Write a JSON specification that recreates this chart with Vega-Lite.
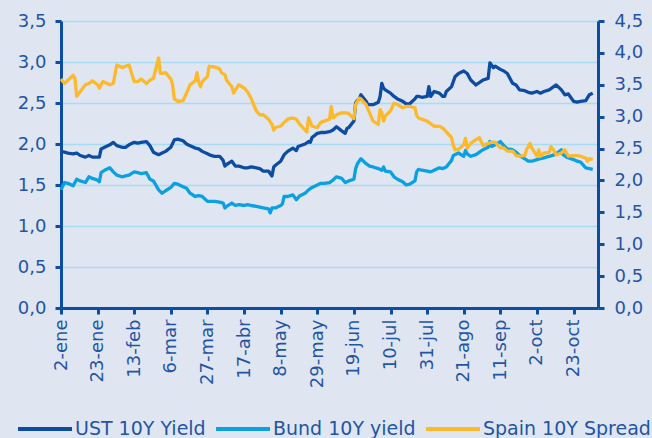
{
"$schema": "https://vega.github.io/schema/vega-lite/v6.json",
"autosize": {"type": "none"},
"padding": {"left": 61, "top": 21, "right": 54, "bottom": 130},
"width": 537,
"height": 287,
"background": "#dfe6f2",
"config": {
  "font": "DejaVu Sans",
  "view": {"stroke": null},
  "axis": {"domainColor": "#0b4ea2", "domainWidth": 3, "tickColor": "#0b4ea2", "tickWidth": 3, "tickSize": 6, "labelColor": "#1f55a3", "labelFontSize": 18, "labelFont": "DejaVu Sans", "title": null, "gridColor": "#a8dcf2", "gridWidth": 1.5},
  "legend": {"labelFont": "DejaVu Sans"}
},
"datasets": {
"ust": [
{"d":"2017-01-02","v":1.91},{"d":"2017-01-04","v":1.90},{"d":"2017-01-06","v":1.89},{"d":"2017-01-09","v":1.88},{"d":"2017-01-11","v":1.89},{"d":"2017-01-13","v":1.86},{"d":"2017-01-16","v":1.84},{"d":"2017-01-18","v":1.86},{"d":"2017-01-20","v":1.84},{"d":"2017-01-23","v":1.84},{"d":"2017-01-24","v":1.84},{"d":"2017-01-25","v":1.94},{"d":"2017-01-27","v":1.96},{"d":"2017-01-30","v":1.99},
{"d":"2017-02-01","v":2.02},{"d":"2017-02-03","v":1.98},{"d":"2017-02-06","v":1.96},{"d":"2017-02-08","v":1.96},{"d":"2017-02-10","v":1.99},{"d":"2017-02-13","v":2.02},{"d":"2017-02-15","v":2.01},{"d":"2017-02-17","v":2.02},{"d":"2017-02-20","v":2.03},{"d":"2017-02-22","v":1.98},{"d":"2017-02-24","v":1.90},{"d":"2017-02-27","v":1.87},
{"d":"2017-03-01","v":1.89},{"d":"2017-03-03","v":1.91},{"d":"2017-03-06","v":1.96},{"d":"2017-03-08","v":2.05},{"d":"2017-03-10","v":2.06},{"d":"2017-03-13","v":2.04},{"d":"2017-03-15","v":2.00},{"d":"2017-03-17","v":1.98},{"d":"2017-03-20","v":1.95},{"d":"2017-03-22","v":1.94},{"d":"2017-03-24","v":1.91},{"d":"2017-03-27","v":1.88},{"d":"2017-03-29","v":1.86},{"d":"2017-03-31","v":1.85},
{"d":"2017-04-03","v":1.85},{"d":"2017-04-05","v":1.80},{"d":"2017-04-06","v":1.73},{"d":"2017-04-07","v":1.75},{"d":"2017-04-10","v":1.79},{"d":"2017-04-12","v":1.73},{"d":"2017-04-14","v":1.73},{"d":"2017-04-17","v":1.71},{"d":"2017-04-19","v":1.71},{"d":"2017-04-21","v":1.72},{"d":"2017-04-24","v":1.71},{"d":"2017-04-26","v":1.70},{"d":"2017-04-28","v":1.67},
{"d":"2017-05-01","v":1.67},{"d":"2017-05-02","v":1.64},{"d":"2017-05-03","v":1.61},{"d":"2017-05-04","v":1.72},{"d":"2017-05-05","v":1.74},{"d":"2017-05-08","v":1.79},{"d":"2017-05-10","v":1.87},{"d":"2017-05-12","v":1.91},{"d":"2017-05-15","v":1.95},{"d":"2017-05-17","v":1.92},{"d":"2017-05-18","v":1.97},{"d":"2017-05-22","v":2.00},{"d":"2017-05-24","v":2.03},{"d":"2017-05-25","v":2.02},{"d":"2017-05-26","v":2.08},{"d":"2017-05-29","v":2.13},{"d":"2017-05-31","v":2.14},
{"d":"2017-06-02","v":2.14},{"d":"2017-06-05","v":2.15},{"d":"2017-06-07","v":2.17},{"d":"2017-06-09","v":2.21},{"d":"2017-06-12","v":2.16},{"d":"2017-06-14","v":2.13},{"d":"2017-06-15","v":2.19},{"d":"2017-06-16","v":2.20},{"d":"2017-06-19","v":2.28},{"d":"2017-06-20","v":2.50},{"d":"2017-06-21","v":2.53},{"d":"2017-06-22","v":2.55},{"d":"2017-06-23","v":2.60},{"d":"2017-06-26","v":2.52},{"d":"2017-06-27","v":2.48},{"d":"2017-06-29","v":2.48},{"d":"2017-06-30","v":2.48},
{"d":"2017-07-03","v":2.51},{"d":"2017-07-04","v":2.58},{"d":"2017-07-05","v":2.74},{"d":"2017-07-06","v":2.68},{"d":"2017-07-07","v":2.66},{"d":"2017-07-10","v":2.62},{"d":"2017-07-12","v":2.58},{"d":"2017-07-14","v":2.55},{"d":"2017-07-17","v":2.52},{"d":"2017-07-19","v":2.49},{"d":"2017-07-21","v":2.49},{"d":"2017-07-24","v":2.55},{"d":"2017-07-25","v":2.58},{"d":"2017-07-26","v":2.58},{"d":"2017-07-28","v":2.57},{"d":"2017-07-31","v":2.58},
{"d":"2017-08-01","v":2.70},{"d":"2017-08-02","v":2.58},{"d":"2017-08-04","v":2.64},{"d":"2017-08-07","v":2.62},{"d":"2017-08-09","v":2.58},{"d":"2017-08-10","v":2.58},{"d":"2017-08-11","v":2.64},{"d":"2017-08-14","v":2.70},{"d":"2017-08-16","v":2.82},{"d":"2017-08-18","v":2.86},{"d":"2017-08-21","v":2.89},{"d":"2017-08-23","v":2.86},{"d":"2017-08-25","v":2.78},{"d":"2017-08-28","v":2.72},{"d":"2017-08-30","v":2.75},
{"d":"2017-09-01","v":2.78},{"d":"2017-09-04","v":2.80},{"d":"2017-09-05","v":2.99},{"d":"2017-09-07","v":2.93},{"d":"2017-09-08","v":2.95},{"d":"2017-09-11","v":2.91},{"d":"2017-09-13","v":2.89},{"d":"2017-09-15","v":2.86},{"d":"2017-09-18","v":2.74},{"d":"2017-09-20","v":2.72},{"d":"2017-09-22","v":2.66},{"d":"2017-09-25","v":2.65},{"d":"2017-09-27","v":2.63},{"d":"2017-09-29","v":2.62},
{"d":"2017-10-02","v":2.64},{"d":"2017-10-04","v":2.62},{"d":"2017-10-06","v":2.64},{"d":"2017-10-09","v":2.66},{"d":"2017-10-11","v":2.69},{"d":"2017-10-13","v":2.72},{"d":"2017-10-16","v":2.66},{"d":"2017-10-18","v":2.60},{"d":"2017-10-20","v":2.61},{"d":"2017-10-23","v":2.52},{"d":"2017-10-25","v":2.51},{"d":"2017-10-27","v":2.52},{"d":"2017-10-30","v":2.53},{"d":"2017-11-01","v":2.60},{"d":"2017-11-03","v":2.62}
],
"bund": [
{"d":"2017-01-02","v":1.44},{"d":"2017-01-04","v":1.53},{"d":"2017-01-06","v":1.52},{"d":"2017-01-09","v":1.49},{"d":"2017-01-11","v":1.57},{"d":"2017-01-13","v":1.55},{"d":"2017-01-16","v":1.53},{"d":"2017-01-18","v":1.60},{"d":"2017-01-20","v":1.58},{"d":"2017-01-23","v":1.56},{"d":"2017-01-24","v":1.54},{"d":"2017-01-25","v":1.65},{"d":"2017-01-27","v":1.68},{"d":"2017-01-30","v":1.71},
{"d":"2017-02-01","v":1.66},{"d":"2017-02-03","v":1.62},{"d":"2017-02-06","v":1.60},{"d":"2017-02-08","v":1.61},{"d":"2017-02-10","v":1.62},{"d":"2017-02-13","v":1.66},{"d":"2017-02-15","v":1.65},{"d":"2017-02-17","v":1.64},{"d":"2017-02-20","v":1.65},{"d":"2017-02-22","v":1.57},{"d":"2017-02-24","v":1.55},{"d":"2017-02-27","v":1.44},
{"d":"2017-03-01","v":1.40},{"d":"2017-03-03","v":1.43},{"d":"2017-03-06","v":1.47},{"d":"2017-03-08","v":1.52},{"d":"2017-03-10","v":1.51},{"d":"2017-03-13","v":1.48},{"d":"2017-03-15","v":1.46},{"d":"2017-03-17","v":1.40},{"d":"2017-03-20","v":1.36},{"d":"2017-03-22","v":1.37},{"d":"2017-03-24","v":1.36},{"d":"2017-03-27","v":1.30},{"d":"2017-03-29","v":1.30},{"d":"2017-03-31","v":1.30},
{"d":"2017-04-03","v":1.29},{"d":"2017-04-05","v":1.28},{"d":"2017-04-06","v":1.22},{"d":"2017-04-07","v":1.24},{"d":"2017-04-10","v":1.28},{"d":"2017-04-12","v":1.25},{"d":"2017-04-14","v":1.26},{"d":"2017-04-17","v":1.25},{"d":"2017-04-19","v":1.26},{"d":"2017-04-21","v":1.25},{"d":"2017-04-24","v":1.24},{"d":"2017-04-26","v":1.23},{"d":"2017-04-28","v":1.22},
{"d":"2017-05-01","v":1.21},{"d":"2017-05-02","v":1.16},{"d":"2017-05-03","v":1.22},{"d":"2017-05-05","v":1.22},{"d":"2017-05-08","v":1.25},{"d":"2017-05-09","v":1.27},{"d":"2017-05-10","v":1.36},{"d":"2017-05-12","v":1.36},{"d":"2017-05-15","v":1.38},{"d":"2017-05-17","v":1.32},{"d":"2017-05-19","v":1.37},{"d":"2017-05-22","v":1.40},{"d":"2017-05-24","v":1.44},{"d":"2017-05-26","v":1.47},{"d":"2017-05-29","v":1.50},{"d":"2017-05-31","v":1.52},
{"d":"2017-06-02","v":1.52},{"d":"2017-06-05","v":1.53},{"d":"2017-06-07","v":1.56},{"d":"2017-06-09","v":1.60},{"d":"2017-06-12","v":1.58},{"d":"2017-06-14","v":1.53},{"d":"2017-06-16","v":1.55},{"d":"2017-06-19","v":1.57},{"d":"2017-06-20","v":1.70},{"d":"2017-06-21","v":1.76},{"d":"2017-06-23","v":1.82},{"d":"2017-06-26","v":1.76},{"d":"2017-06-28","v":1.73},{"d":"2017-06-30","v":1.72},
{"d":"2017-07-03","v":1.70},{"d":"2017-07-05","v":1.68},{"d":"2017-07-06","v":1.72},{"d":"2017-07-07","v":1.67},{"d":"2017-07-10","v":1.66},{"d":"2017-07-12","v":1.60},{"d":"2017-07-14","v":1.57},{"d":"2017-07-17","v":1.54},{"d":"2017-07-19","v":1.50},{"d":"2017-07-21","v":1.51},{"d":"2017-07-24","v":1.55},{"d":"2017-07-25","v":1.66},{"d":"2017-07-26","v":1.69},{"d":"2017-07-28","v":1.68},{"d":"2017-07-31","v":1.67},
{"d":"2017-08-02","v":1.66},{"d":"2017-08-04","v":1.68},{"d":"2017-08-07","v":1.71},{"d":"2017-08-09","v":1.70},{"d":"2017-08-11","v":1.72},{"d":"2017-08-14","v":1.80},{"d":"2017-08-15","v":1.86},{"d":"2017-08-17","v":1.88},{"d":"2017-08-18","v":1.89},{"d":"2017-08-21","v":1.85},{"d":"2017-08-22","v":1.92},{"d":"2017-08-23","v":1.88},{"d":"2017-08-25","v":1.85},{"d":"2017-08-28","v":1.87},{"d":"2017-08-30","v":1.90},
{"d":"2017-09-01","v":1.93},{"d":"2017-09-04","v":1.96},{"d":"2017-09-05","v":2.03},{"d":"2017-09-06","v":1.97},{"d":"2017-09-08","v":1.99},{"d":"2017-09-11","v":2.03},{"d":"2017-09-13","v":1.98},{"d":"2017-09-15","v":1.94},{"d":"2017-09-18","v":1.93},{"d":"2017-09-20","v":1.90},{"d":"2017-09-22","v":1.86},{"d":"2017-09-25","v":1.82},{"d":"2017-09-27","v":1.79},{"d":"2017-09-29","v":1.79},
{"d":"2017-10-02","v":1.81},{"d":"2017-10-04","v":1.82},{"d":"2017-10-06","v":1.83},{"d":"2017-10-09","v":1.85},{"d":"2017-10-11","v":1.86},{"d":"2017-10-13","v":1.88},{"d":"2017-10-16","v":1.93},{"d":"2017-10-17","v":1.87},{"d":"2017-10-19","v":1.84},{"d":"2017-10-23","v":1.81},{"d":"2017-10-25","v":1.79},{"d":"2017-10-27","v":1.78},{"d":"2017-10-30","v":1.71},{"d":"2017-11-01","v":1.70},{"d":"2017-11-03","v":1.69}
],
"spain": [
{"d":"2017-01-02","v":3.59},{"d":"2017-01-04","v":3.52},{"d":"2017-01-06","v":3.57},{"d":"2017-01-09","v":3.65},{"d":"2017-01-10","v":3.60},{"d":"2017-01-11","v":3.32},{"d":"2017-01-13","v":3.39},{"d":"2017-01-16","v":3.50},{"d":"2017-01-18","v":3.52},{"d":"2017-01-20","v":3.56},{"d":"2017-01-23","v":3.50},{"d":"2017-01-24","v":3.45},{"d":"2017-01-26","v":3.55},{"d":"2017-01-30","v":3.50},
{"d":"2017-02-01","v":3.52},{"d":"2017-02-03","v":3.81},{"d":"2017-02-06","v":3.77},{"d":"2017-02-08","v":3.79},{"d":"2017-02-10","v":3.81},{"d":"2017-02-13","v":3.55},{"d":"2017-02-15","v":3.55},{"d":"2017-02-17","v":3.59},{"d":"2017-02-20","v":3.52},{"d":"2017-02-22","v":3.57},{"d":"2017-02-24","v":3.60},{"d":"2017-02-27","v":3.92},{"d":"2017-02-28","v":3.68},
{"d":"2017-03-01","v":3.68},{"d":"2017-03-03","v":3.69},{"d":"2017-03-06","v":3.59},{"d":"2017-03-07","v":3.50},{"d":"2017-03-08","v":3.28},{"d":"2017-03-10","v":3.24},{"d":"2017-03-13","v":3.25},{"d":"2017-03-15","v":3.37},{"d":"2017-03-17","v":3.50},{"d":"2017-03-20","v":3.56},{"d":"2017-03-21","v":3.69},{"d":"2017-03-22","v":3.54},{"d":"2017-03-23","v":3.47},{"d":"2017-03-24","v":3.55},{"d":"2017-03-27","v":3.63},{"d":"2017-03-28","v":3.79},{"d":"2017-03-31","v":3.78},
{"d":"2017-04-03","v":3.75},{"d":"2017-04-04","v":3.69},{"d":"2017-04-06","v":3.66},{"d":"2017-04-07","v":3.57},{"d":"2017-04-10","v":3.47},{"d":"2017-04-11","v":3.37},{"d":"2017-04-12","v":3.42},{"d":"2017-04-14","v":3.50},{"d":"2017-04-17","v":3.45},{"d":"2017-04-19","v":3.39},{"d":"2017-04-21","v":3.29},{"d":"2017-04-24","v":3.09},{"d":"2017-04-26","v":3.03},{"d":"2017-04-28","v":3.03},
{"d":"2017-05-01","v":2.96},{"d":"2017-05-03","v":2.88},{"d":"2017-05-04","v":2.79},{"d":"2017-05-05","v":2.83},{"d":"2017-05-08","v":2.85},{"d":"2017-05-10","v":2.91},{"d":"2017-05-12","v":2.96},{"d":"2017-05-15","v":2.98},{"d":"2017-05-17","v":2.96},{"d":"2017-05-19","v":2.88},{"d":"2017-05-22","v":2.79},{"d":"2017-05-23","v":2.76},{"d":"2017-05-24","v":2.98},{"d":"2017-05-26","v":2.85},{"d":"2017-05-29","v":2.83},{"d":"2017-05-31","v":2.91},
{"d":"2017-06-02","v":2.93},{"d":"2017-06-05","v":2.96},{"d":"2017-06-06","v":3.16},{"d":"2017-06-07","v":2.98},{"d":"2017-06-09","v":3.03},{"d":"2017-06-12","v":3.06},{"d":"2017-06-14","v":3.06},{"d":"2017-06-16","v":3.05},{"d":"2017-06-19","v":2.97},{"d":"2017-06-20","v":3.19},{"d":"2017-06-22","v":3.29},{"d":"2017-06-23","v":3.28},{"d":"2017-06-26","v":3.19},{"d":"2017-06-28","v":3.06},{"d":"2017-06-30","v":2.93},
{"d":"2017-07-03","v":2.88},{"d":"2017-07-04","v":3.11},{"d":"2017-07-05","v":3.06},{"d":"2017-07-06","v":2.93},{"d":"2017-07-07","v":3.01},{"d":"2017-07-10","v":3.09},{"d":"2017-07-12","v":3.21},{"d":"2017-07-14","v":3.19},{"d":"2017-07-17","v":3.14},{"d":"2017-07-19","v":3.16},{"d":"2017-07-21","v":3.16},{"d":"2017-07-24","v":3.14},{"d":"2017-07-25","v":3.02},{"d":"2017-07-26","v":2.98},{"d":"2017-07-28","v":2.96},{"d":"2017-07-31","v":2.93},
{"d":"2017-08-02","v":2.89},{"d":"2017-08-04","v":2.85},{"d":"2017-08-07","v":2.85},{"d":"2017-08-09","v":2.82},{"d":"2017-08-11","v":2.76},{"d":"2017-08-14","v":2.67},{"d":"2017-08-15","v":2.55},{"d":"2017-08-16","v":2.48},{"d":"2017-08-18","v":2.49},{"d":"2017-08-21","v":2.56},{"d":"2017-08-22","v":2.66},{"d":"2017-08-23","v":2.51},{"d":"2017-08-25","v":2.58},{"d":"2017-08-28","v":2.64},{"d":"2017-08-30","v":2.67},
{"d":"2017-09-01","v":2.55},{"d":"2017-09-04","v":2.58},{"d":"2017-09-06","v":2.60},{"d":"2017-09-08","v":2.60},{"d":"2017-09-11","v":2.51},{"d":"2017-09-13","v":2.51},{"d":"2017-09-15","v":2.46},{"d":"2017-09-18","v":2.46},{"d":"2017-09-20","v":2.39},{"d":"2017-09-22","v":2.38},{"d":"2017-09-25","v":2.39},{"d":"2017-09-26","v":2.48},{"d":"2017-09-28","v":2.58},{"d":"2017-09-29","v":2.51},
{"d":"2017-10-02","v":2.38},{"d":"2017-10-03","v":2.48},{"d":"2017-10-04","v":2.38},{"d":"2017-10-06","v":2.43},{"d":"2017-10-09","v":2.44},{"d":"2017-10-10","v":2.53},{"d":"2017-10-12","v":2.46},{"d":"2017-10-13","v":2.40},{"d":"2017-10-16","v":2.43},{"d":"2017-10-18","v":2.48},{"d":"2017-10-20","v":2.38},{"d":"2017-10-23","v":2.39},{"d":"2017-10-25","v":2.39},{"d":"2017-10-27","v":2.38},{"d":"2017-10-30","v":2.35},{"d":"2017-10-31","v":2.30},{"d":"2017-11-01","v":2.34},{"d":"2017-11-03","v":2.33}
]
},
"encoding": {
  "x": {"field": "d", "type": "temporal",
    "scale": {"type": "utc", "domain": [{"year": 2017, "month": 1, "date": 2, "utc": true}, {"year": 2017, "month": 11, "date": 6, "utc": true}]},
    "axis": {"grid": false, "labelAngle": 270, "labelAlign": "right", "labelBaseline": "middle", "labelPadding": 5,
      "values": [
        {"year": 2017, "month": 1, "date": 2, "utc": true}, {"year": 2017, "month": 1, "date": 23, "utc": true},
        {"year": 2017, "month": 2, "date": 13, "utc": true}, {"year": 2017, "month": 3, "date": 6, "utc": true},
        {"year": 2017, "month": 3, "date": 27, "utc": true}, {"year": 2017, "month": 4, "date": 17, "utc": true},
        {"year": 2017, "month": 5, "date": 8, "utc": true}, {"year": 2017, "month": 5, "date": 29, "utc": true},
        {"year": 2017, "month": 6, "date": 19, "utc": true}, {"year": 2017, "month": 7, "date": 10, "utc": true},
        {"year": 2017, "month": 7, "date": 31, "utc": true}, {"year": 2017, "month": 8, "date": 21, "utc": true},
        {"year": 2017, "month": 9, "date": 11, "utc": true}, {"year": 2017, "month": 10, "date": 2, "utc": true},
        {"year": 2017, "month": 10, "date": 23, "utc": true}],
      "labelExpr": "utcdate(datum.value) + '-' + ['ene','feb','mar','abr','may','jun','jul','ago','sep','oct','nov','dic'][utcmonth(datum.value)]"}
  }
},
"layer": [
  {
    "encoding": {
      "y": {"field": "v", "type": "quantitative", "scale": {"domain": [0, 3.5], "nice": false},
        "axis": {"orient": "left", "values": [0, 0.5, 1, 1.5, 2, 2.5, 3, 3.5], "grid": true, "labelPadding": 9,
          "labelExpr": "replace(format(datum.value, '.1f'), '.', ',')"}}
    },
    "layer": [
      {"data": {"name": "ust"}, "mark": {"type": "line", "strokeWidth": 3.3, "strokeJoin": "round"},
       "encoding": {"color": {"datum": "UST 10Y Yield", "type": "nominal",
         "scale": {"domain": ["UST 10Y Yield", "Bund 10Y yield", "Spain 10Y Spread"], "range": ["#0c4ca3", "#0aa0e2", "#fbb92b"]},
         "legend": {"orient": "none", "legendX": -45, "legendY": 379, "direction": "horizontal", "title": null, "symbolType": "stroke", "symbolSize": 2916, "symbolStrokeWidth": 4, "labelFontSize": 19, "labelLimit": 400, "labelColor": "#1f55a3", "labelOffset": 1, "columnPadding": 2, "padding": 0}}}},
      {"data": {"name": "bund"}, "mark": {"type": "line", "strokeWidth": 3.3, "strokeJoin": "round"},
       "encoding": {"color": {"datum": "Bund 10Y yield", "type": "nominal"}}}
    ]
  },
  {"data": {"name": "spain"}, "mark": {"type": "line", "strokeWidth": 3.3, "strokeJoin": "round"},
   "encoding": {
     "y": {"field": "v", "type": "quantitative", "scale": {"domain": [0, 4.5], "nice": false},
       "axis": {"orient": "right", "values": [0, 0.5, 1, 1.5, 2, 2.5, 3, 3.5, 4, 4.5], "grid": false, "labelPadding": 10,
         "labelExpr": "replace(format(datum.value, '.1f'), '.', ',')"}},
     "color": {"datum": "Spain 10Y Spread", "type": "nominal"}}}
],
"resolve": {"scale": {"y": "independent"}}
}
